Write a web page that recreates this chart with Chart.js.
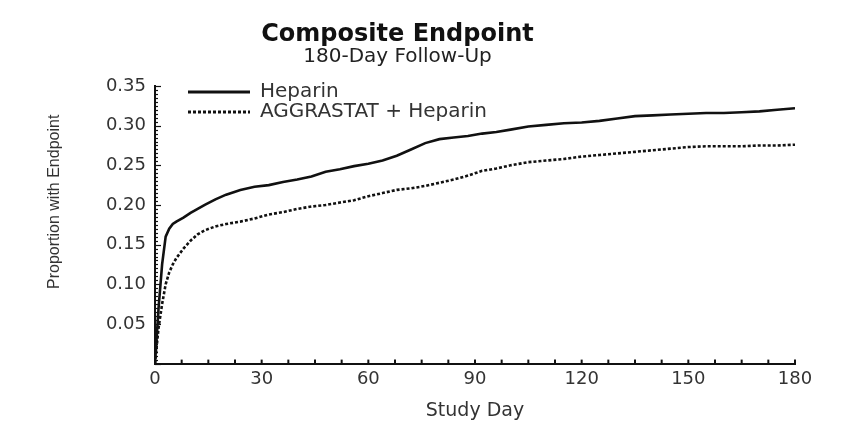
<!DOCTYPE html>
<html><head><meta charset="utf-8">
<script src="https://cdn.jsdelivr.net/npm/chart.js@4/dist/chart.umd.min.js"></script>
<style>html,body{margin:0;padding:0;background:#fff}#wrap{width:842px;height:427px}</style>
</head><body><div id="wrap"><canvas id="c" width="842" height="427"></canvas></div>
<script>
const days = [0,1,2,3,4,5,6,8,10,12,14,17,20,24,28,32,36,40,44,48,52,56,60,64,68,72,76,80,84,88,92,96,100,105,110,115,120,125,130,135,140,145,150,155,160,165,170,175,180];
const heparin = [0,0.07,0.125,0.16,0.17,0.176,0.179,0.184,0.19,0.195,0.2,0.207,0.213,0.219,0.223,0.225,0.229,0.232,0.236,0.242,0.245,0.249,0.252,0.256,0.262,0.27,0.278,0.283,0.285,0.287,0.29,0.292,0.295,0.299,0.301,0.303,0.304,0.306,0.309,0.312,0.313,0.314,0.315,0.316,0.316,0.317,0.318,0.32,0.322];
const aggrastat = [0,0.045,0.075,0.1,0.115,0.125,0.133,0.145,0.155,0.163,0.168,0.173,0.176,0.179,0.183,0.188,0.191,0.195,0.198,0.2,0.203,0.206,0.211,0.215,0.219,0.221,0.224,0.228,0.232,0.237,0.243,0.246,0.25,0.254,0.256,0.258,0.261,0.263,0.265,0.267,0.269,0.271,0.273,0.274,0.274,0.274,0.275,0.275,0.276];
const seriesNames = ['Heparin','AGGRASTAT + Heparin'];
const xTickLabels = [0,30,60,90,120,150,180];
const yTickLabels = ['0.05','0.10','0.15','0.20','0.25','0.30','0.35'];
const yAxisTitle = 'Proportion with Endpoint';

const FONT = 'DejaVu Sans';
const inwardTicks = {
  id:'inwardTicks',
  afterDatasetsDraw(chart){
    const ctx = chart.ctx, xs = chart.scales.x, ys = chart.scales.y, a = chart.chartArea;
    ctx.save(); ctx.strokeStyle = '#111'; ctx.lineWidth = 1.2;
    ys.ticks.forEach(t=>{
      const y = Math.round(ys.getPixelForValue(t.value)) + 0.5;
      const major = Math.abs(t.value/0.05 - Math.round(t.value/0.05)) < 1e-6;
      ctx.beginPath(); ctx.moveTo(a.left, y); ctx.lineTo(a.left + (major?6:3), y); ctx.stroke();
    });
    ctx.lineWidth = 2;
    xs.ticks.forEach(t=>{
      const x = xs.getPixelForValue(t.value);
      ctx.beginPath(); ctx.moveTo(x, a.bottom); ctx.lineTo(x, a.bottom - 4); ctx.stroke();
    });
    ctx.fillStyle = '#333'; ctx.font = '16px "Liberation Sans"';
    ctx.textAlign = 'center'; ctx.textBaseline = 'middle';
    ctx.translate(55, (a.top + a.bottom)/2 - 23); ctx.rotate(-Math.PI/2);
    ctx.fillText(yAxisTitle, 0, 0);
    ctx.restore();
  }
};
const moveLegend = {
  id:'moveLegend',
  afterLayout(chart){
    const l = chart.legend; if(!l) return;
    const w = l.width, h = l.height;
    l.left = 188; l.top = 82; l.right = l.left + w; l.bottom = l.top + h;
  }
};

new Chart(document.getElementById('c'), {
  type:'line',
  data:{datasets:[
    {label:seriesNames[0], data:days.map((d,i)=>({x:d,y:heparin[i]})), borderColor:'#111', backgroundColor:'#111', borderWidth:2.6, pointRadius:0, tension:0},
    {label:seriesNames[1], data:days.map((d,i)=>({x:d,y:aggrastat[i]})), borderColor:'#111', backgroundColor:'#111', borderWidth:2.6, borderDash:[3,2], pointRadius:0, tension:0}
  ]},
  options:{
    responsive:false, animation:false, devicePixelRatio:1,
    layout:{padding:{left:0,right:47,top:0,bottom:5}},
    plugins:{
      title:{display:true, text:'Composite Endpoint', color:'#111', font:{family:FONT, size:24, weight:'bold', lineHeight:1.0}, padding:{top:23,bottom:0}},
      subtitle:{display:true, text:'180-Day Follow-Up', color:'#222', font:{family:FONT, size:20, lineHeight:1.0}, padding:{top:0,bottom:19}},
      legend:{position:'chartArea', align:'start', labels:{usePointStyle:true, pointStyle:'line', pointStyleWidth:62, boxHeight:20, color:'#333', font:{family:FONT, size:20, lineHeight:1.0}, padding:0,
        generateLabels(chart){
          const items = Chart.defaults.plugins.legend.labels.generateLabels(chart);
          items.forEach(it=>{ const ds = chart.data.datasets[it.datasetIndex]; it.lineDash = ds.borderDash || []; it.lineWidth = 3; it.strokeStyle = '#111'; it.pointStyle = 'line'; });
          return items;
        }}},
      tooltip:{enabled:false}
    },
    scales:{
      x:{type:'linear', min:0, max:180,
        border:{display:true, color:'#111', width:2},
        grid:{display:false, drawTicks:false},
        ticks:{stepSize:7.5, autoSkip:false, maxRotation:0, color:'#333', font:{family:FONT, size:18}, padding:5,
          callback:v=> xTickLabels.includes(v) ? String(v) : ''},
        title:{display:true, text:'Study Day', color:'#333', font:{family:FONT, size:19}, padding:{top:4,bottom:0}}
      },
      y:{min:0, max:0.35,
        border:{display:true, color:'#111', width:2},
        grid:{display:false, drawTicks:false},
        afterFit(s){ s.width = 155; },
        ticks:{stepSize:0.005, autoSkip:false, color:'#333', font:{family:FONT, size:18}, padding:9,
          callback:v=>{ const s=(Math.round(v*100)/100).toFixed(2); return (Math.abs(v/0.05-Math.round(v/0.05))<1e-6 && yTickLabels.includes(s)) ? s : ''; }}
      }
    }
  },
  plugins:[inwardTicks, moveLegend]
});
</script></body></html>
